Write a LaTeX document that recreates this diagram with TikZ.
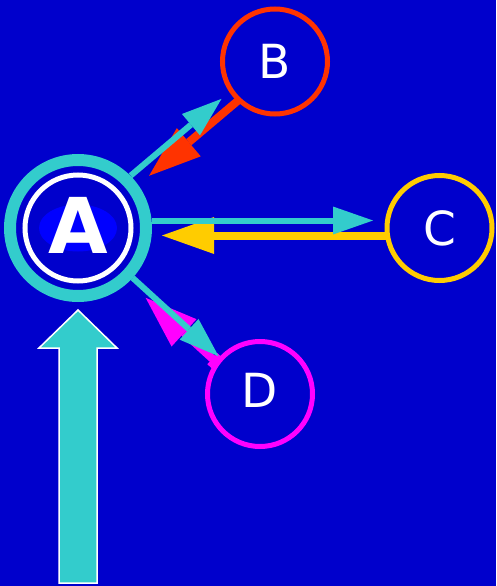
\documentclass[tikz,border=0pt]{standalone}
\usepackage{fontspec}
\newfontfamily\glyphfont{DejaVu Sans}
\usepackage{tikz}
\usetikzlibrary{calc, arrows.meta}
\definecolor{bgblue}{HTML}{0000CC}
\definecolor{hubblue}{HTML}{0000FF}
\definecolor{linkcyan}{HTML}{33CCCC}
\definecolor{peerred}{HTML}{FF3300}
\definecolor{peeryellow}{HTML}{FFCC00}
\definecolor{peermagenta}{HTML}{FF00FF}

\begin{document}
\begin{tikzpicture}[x=1pt, y=-1pt,
    peer/.style={circle, draw, line width=5pt, minimum size=105pt, inner sep=0pt, text=white, font=\glyphfont\fontsize{47}{47}\selectfont},
    outlink/.style={draw=linkcyan, line width=6pt, -{Triangle[length=40pt, width=28pt, line width=0pt]}},
    inlink/.style={line width=8pt, -{Triangle[length=52pt, width=37pt, line width=0pt]}},
    bigarrow/.style={fill=linkcyan, draw=white, line width=1.5pt, line join=miter}]
    \fill[bgblue] (0,0) rectangle (496,586);
    \useasboundingbox (0,0) rectangle (496,586);
    % hub
    \node[circle, draw=linkcyan, line width=12pt, minimum size=136pt, inner sep=0pt] (A) at (78,228) {};
    \fill[hubblue] (A.center) ellipse [x radius=39pt, y radius=23.5pt];
    \draw[white, line width=5pt] (A.center) circle [radius=53pt];
    \node[text=white, font=\glyphfont\bfseries\fontsize{77}{77}\selectfont] (Alabel) at ($(A.center)+(0,-3)$) {A};
    % peers
    \node[peer, draw=peerred] (B) at (275,61.5) {B};
    \node[peer, draw=peeryellow] (C) at (439.5,228) {C};
    \node[peer, draw=peermagenta] (D) at (260,394) {};
    \node[text=white, font=\glyphfont\fontsize{47}{47}\selectfont] (Dlabel) at ($(D.center)+(0,-4)$) {D};
    % incoming
    \draw[inlink, draw=peerred] ($(B)!53pt!(A)!6pt!90:(A)$) -- ($(A)!88pt!(B)!6pt!-90:(B)$);
    \draw[inlink, draw=peeryellow] ($(C)!53pt!(A)!7.5pt!90:(A)$) -- ($(A)!84pt!(C)!7.5pt!-90:(C)$);
    \draw[inlink, draw=peermagenta, {Bar[width=15pt, line width=6pt]}-{Triangle[length=52pt, width=37pt, line width=0pt]}] ($(D)!53pt!(A)!6pt!90:(A)$) -- ($(A)!97pt!(D)!6pt!-90:(D)$);
    % outgoing
    \draw[outlink] ($(A)!74pt!(B)!6pt!90:(B)$) -- ($(B)!65pt!(A)!6pt!-90:(A)$);
    \draw[outlink] ($(A)!74pt!(C)!7.5pt!90:(C)$) -- ($(C)!66.5pt!(A)!7.5pt!-90:(A)$);
    \draw[outlink] ($(A)!74pt!(D)$) -- ($(D)!56pt!(A)$);
    % feed arrow
    \coordinate (feed) at ($(A.south)+(0,8)$);
    \draw[bigarrow] (feed) -- ++(39,38) -- ++(-20,0) -- ++(0,235) -- ++(-38,0) -- ++(0,-235) -- ++(-20,0) -- cycle;
\end{tikzpicture}
\end{document}
